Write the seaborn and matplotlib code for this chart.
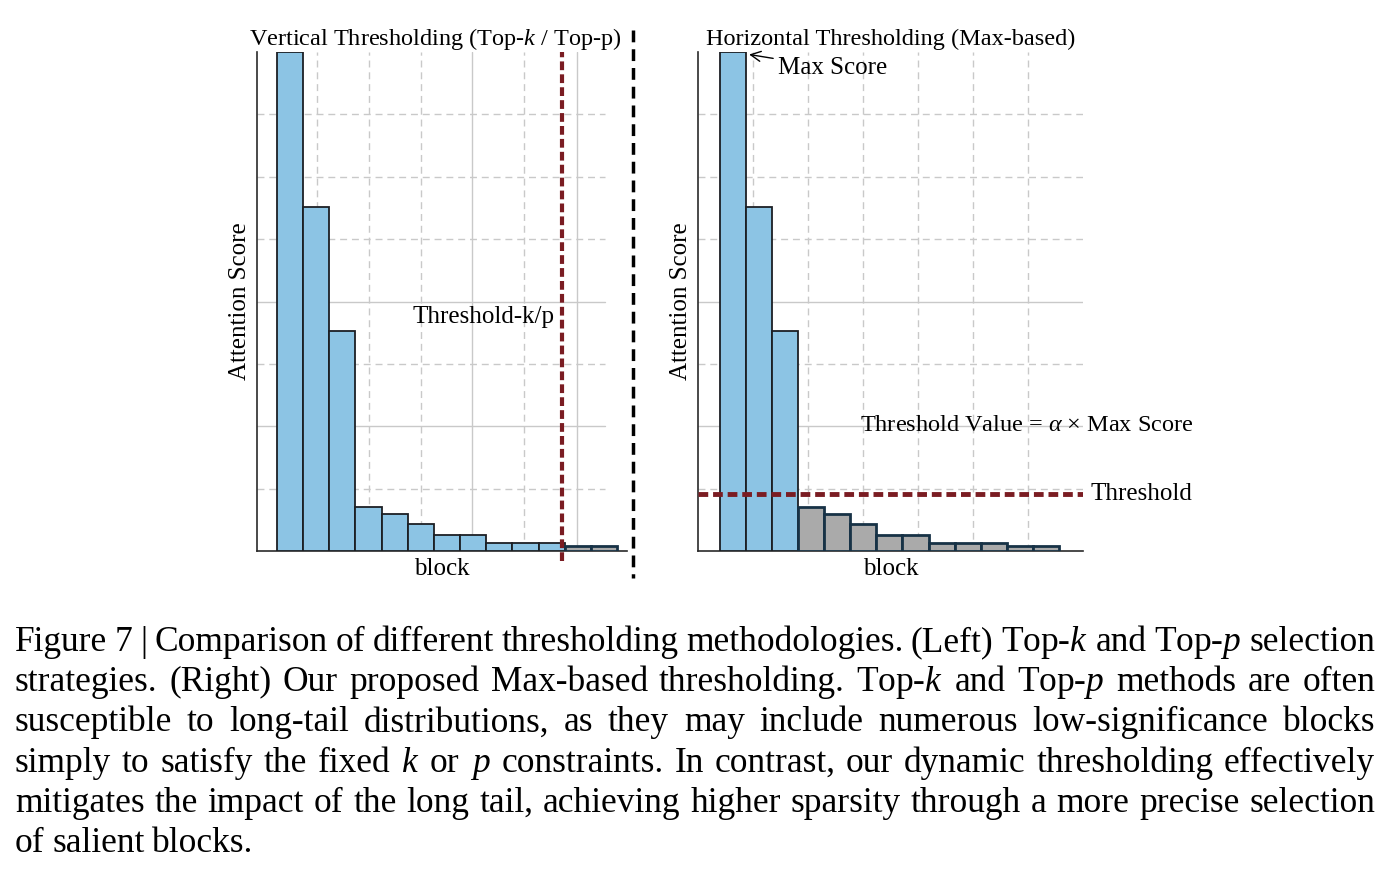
import numpy as np
import pandas as pd
import seaborn as sns
import matplotlib.pyplot as plt
from matplotlib.lines import Line2D

# attention score of each block, relative to the max block
blocks = [f"b{i}" for i in range(1, 14)]
scores = [1.0, 0.69, 0.44, 0.088, 0.074, 0.054, 0.032, 0.032, 0.016, 0.016, 0.016, 0.010, 0.010]

topk_cut = 10.4      # position of the top-k / top-p cut (block index)
alpha_thr = 0.114    # alpha x max score

caption_lines = [
    "Figure 7 | Comparison of different thresholding methodologies. (Left) Top-$k$ and Top-$p$ selection",
    "strategies. (Right) Our proposed Max-based thresholding. Top-$k$ and Top-$p$ methods are often",
    "susceptible to long-tail distributions, as they may include numerous low-significance blocks",
    "simply to satisfy the fixed $k$ or $p$ constraints. In contrast, our dynamic thresholding effectively",
    "mitigates the impact of the long tail, achieving higher sparsity through a more precise selection",
    "of salient blocks.",
]

BLUE = "#8cc4e4"
GRAY = "#aaaaaa"
RED = "#7a1c22"
FS = 18

sns.set_style("white")
plt.rcParams["font.family"] = ["Liberation Serif", "DejaVu Serif"]
plt.rcParams["mathtext.fontset"] = "custom"
plt.rcParams["mathtext.rm"] = "Liberation Serif"
plt.rcParams["mathtext.it"] = "Liberation Serif:italic"
plt.rcParams["text.color"] = "black"
plt.rcParams["axes.labelcolor"] = "black"

df = pd.DataFrame({"block": blocks, "score": scores})
idx = np.arange(len(blocks))

W, H = 1393, 877
fig = plt.figure(figsize=(W / 100, H / 100), dpi=100)
ax1 = fig.add_axes([257 / W, 1 - 551 / H, 370 / W, 499 / H])
ax2 = fig.add_axes([698 / W, 1 - 551 / H, 385 / W, 499 / H])


def panel(ax, kept, xlim, title, title_x, vfrac, vstyle, hx_max):
    cols = [BLUE if k else GRAY for k in kept]
    sns.barplot(data=df, x="block", y="score", hue="block", palette=cols,
                legend=False, width=1.0, saturation=1, ax=ax,
                edgecolor="#1c1f24", linewidth=1.3, zorder=3)
    for p, k in zip(ax.patches, kept):
        if not k:
            p.set_edgecolor("#173246")
            p.set_linewidth(2.0)
    ax.set_xlim(*xlim)
    ax.set_ylim(0, 1.0)
    ax.set_xticks([])
    ax.set_yticks([])
    # grid: solid at quarters, dashed at the eighths in between
    for k in range(1, 8):
        solid = k in (2, 4)
        ax.axhline(k / 8, xmax=hx_max, color="#c9c9c9", lw=1.0, zorder=1,
                   ls="-" if solid else (0, (5, 3.5)))
    for f, s in zip(vfrac, vstyle):
        ax.plot([f, f], [0, 1], transform=ax.transAxes, color="#c9c9c9", lw=1.0,
                zorder=1, ls="-" if s else (0, (5, 3.5)))
    for side in ("top", "right"):
        ax.spines[side].set_visible(False)
    for side in ("left", "bottom"):
        ax.spines[side].set_color("#2a2a2a")
        ax.spines[side].set_linewidth(1.2)
    ax.set_title(title, fontsize=17.5, pad=5, x=title_x)
    ax.set_xlabel("block", fontsize=FS, labelpad=5)
    ax.set_ylabel("Attention Score", fontsize=FS, labelpad=4)


# left: vertical (top-k / top-p) threshold
kept_left = [i < topk_cut for i in idx]
vl = [(px - 257) / 370 for px in (317, 369, 421, 472, 524, 577)]
panel(ax1, kept_left, (-1.265, 12.88), "Vertical Thresholding (Top-$k$ / Top-p)", 0.482,
      vl, [False, False, False, True, False, True], 0.94)
ax1.plot([topk_cut, topk_cut], [-0.02, 1.0], color=RED, lw=3.0,
         dashes=(2.1, 1.0), clip_on=False, zorder=5)
ax1.text(topk_cut - 0.3, 0.468, "Threshold-k/p", ha="right", va="center", fontsize=FS, zorder=6)

# right: horizontal (max-based) threshold
kept_right = [s > alpha_thr for s in scores]
vr = list(np.linspace(0, 1, 8)[1:-1])
panel(ax2, kept_right, (-1.34, 13.42), "Horizontal Thresholding (Max-based)", 0.5,
      vr, [False] * 6, 1.0)
ax2.axhline(alpha_thr, color=RED, lw=3.5, dashes=(2.0, 1.0), zorder=5)
ax2.text(13.69, alpha_thr, "Threshold", ha="left", va="center", fontsize=FS)
ax2.text(4.87, 0.252, r"Threshold Value = $\alpha$ × Max Score", ha="left", va="center",
         fontsize=17.5, zorder=6)
ax2.annotate("Max Score", xy=(0.62, 0.995), xytext=(1.72, 0.968), ha="left", va="center",
             fontsize=FS, annotation_clip=False,
             arrowprops=dict(arrowstyle="->", color="black", lw=1.0, shrinkA=1, shrinkB=0))

# dashed separator between the panels
fig.add_artist(Line2D([633 / W, 633 / W], [1 - 30 / H, 1 - 578 / H], color="black",
                      lw=2.5, dashes=(3.4, 2.0)))

# justified caption
renderer = fig.canvas.get_renderer()
x0, x1 = 15, 1375
for i, line in enumerate(caption_lines):
    y = 1 - (651 + 40.2 * i) / H
    words = line.split(" ")
    texts = [fig.text(0, y, w, fontsize=25.5, va="baseline", ha="left") for w in words]
    widths = [t.get_window_extent(renderer).width for t in texts]
    last = i == len(caption_lines) - 1
    gap = 7.5 if last else (x1 - x0 - sum(widths)) / (len(words) - 1)
    x = x0
    for t, w in zip(texts, widths):
        t.set_x(x / W)
        x += w + gap

fig.savefig("out.png", dpi=100)
